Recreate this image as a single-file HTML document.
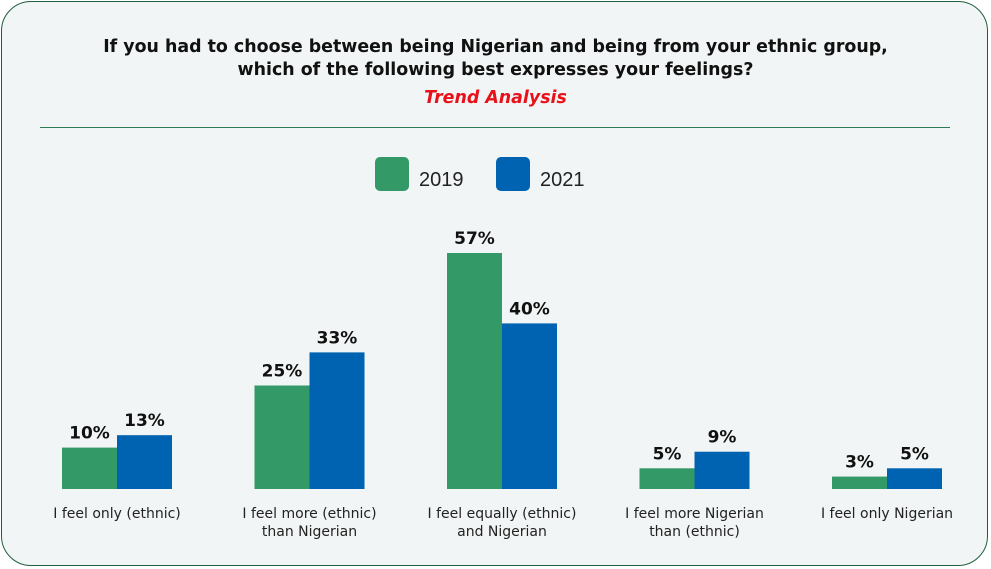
<!DOCTYPE html>
<html><head><meta charset="utf-8"><style>
html,body{margin:0;padding:0;background:#fff;}
body{width:991px;height:569px;position:relative;overflow:hidden;font-family:"DejaVu Sans","Liberation Sans",sans-serif;}
#card{position:absolute;left:1px;top:1px;width:987px;height:565px;border:1.5px solid #1f5f3d;border-radius:30px;background:#f2f5f5;box-sizing:border-box;}
.t{position:absolute;left:0;width:991px;text-align:center;font-weight:bold;color:#111;font-size:17.4px;}
svg{position:absolute;left:0;top:0;}
</style></head><body>
<div id="card"></div>
<div class="t" style="top:37px">If you had to choose between being Nigerian and being from your ethnic group,</div>
<div class="t" style="top:60px">which of the following best expresses your feelings?</div>
<div class="t" style="top:88px;color:#e8111a;font-style:italic;">Trend Analysis</div>
<svg width="991" height="569" id="chart">
<line x1="40" x2="950" y1="127.5" y2="127.5" stroke="#2f7a52" stroke-width="1"/>
<rect x="375" y="157" width="34" height="34" rx="5" fill="#339966"/>
<text x="419" y="186" font-size="20" fill="#222" font-family="Liberation Sans">2019</text>
<rect x="496" y="157" width="34" height="34" rx="5" fill="#0063b1"/>
<text x="540" y="186" font-size="20" fill="#222" font-family="Liberation Sans">2021</text>
<g id="bars"></g>
</svg>
<script>
const categories = [["I feel only (ethnic)"],["I feel more (ethnic)","than Nigerian"],["I feel equally (ethnic)","and Nigerian"],["I feel more Nigerian","than (ethnic)"],["I feel only Nigerian"]];
const values2019 = [10,25,57,5,3];
const values2021 = [13,33,40,9,5];
const baseY = 489, pxPer = 4.14, firstC = 117, step = 192.5, bw = 55;
const y = v => baseY - v * pxPer;
const x = i => firstC + i * step;
const g = document.getElementById('bars');
const NS = 'http://www.w3.org/2000/svg';
function mk(tag, attrs){const e=document.createElementNS(NS,tag);for(const k in attrs)e.setAttribute(k,attrs[k]);return e;}
categories.forEach((cat,i)=>{
  [[values2019,'#339966',-bw,'2019'],[values2021,'#0063b1',0,'2021']].forEach(([arr,col,off,yr])=>{
    const v=arr[i];
    const r=mk('rect',{x:x(i)+off,y:y(v),width:bw,height:baseY-y(v),fill:col});
    
    
    g.appendChild(r);
    const t=mk('text',{x:x(i)+off+bw/2,y:y(v)-9,'text-anchor':'middle','font-size':'17','font-weight':'bold',fill:'#111'});
    t.textContent=v+'%';
    
    
    g.appendChild(t);
  });
  cat.forEach((line,j)=>{
    const t=mk('text',{x:x(i),y:518+j*18,'text-anchor':'middle','font-size':'14',fill:'#222'});
    t.textContent=line;
    
    
    g.appendChild(t);
  });
});
</script>
</body></html>
